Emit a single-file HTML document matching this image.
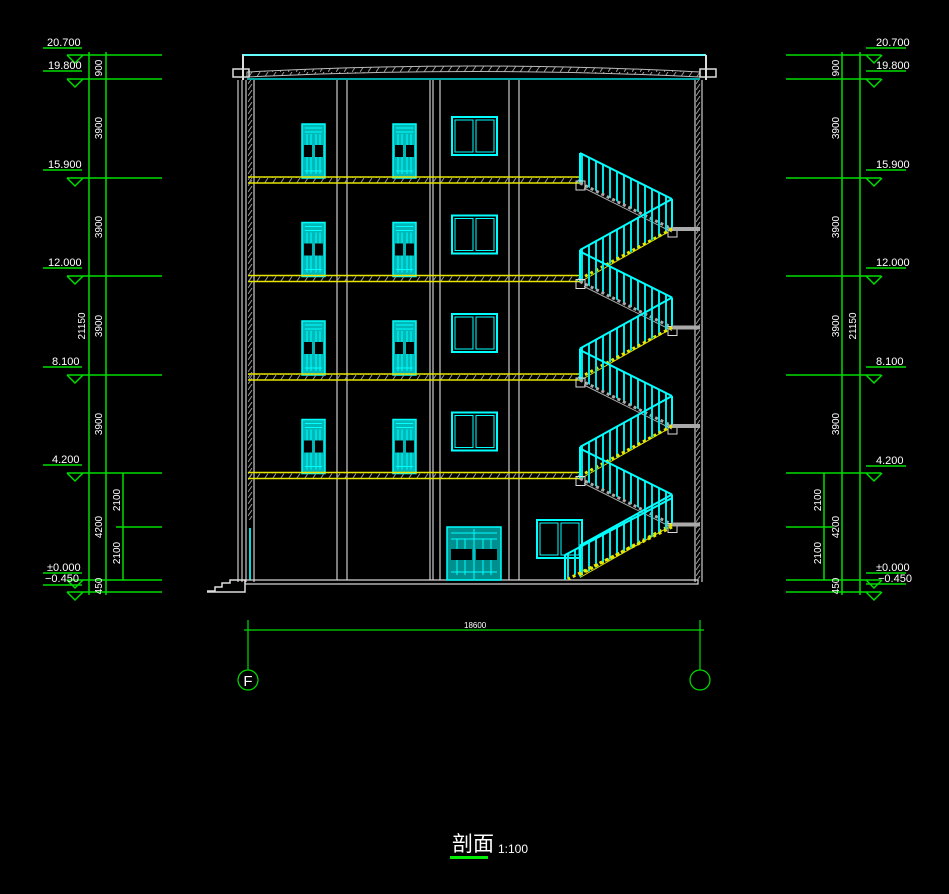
<!DOCTYPE html>
<html><head><meta charset="utf-8"><style>
html,body{margin:0;padding:0;background:#000;}
svg{display:block;}
text{font-family:"Liberation Sans Narrow","Liberation Sans",sans-serif;fill:#fff;}
</style></head><body>
<svg width="949" height="894" viewBox="0 0 949 894" xmlns="http://www.w3.org/2000/svg">
<defs>
<pattern id="bal" width="7" height="10" patternUnits="userSpaceOnUse">
<rect x="0" y="0" width="2" height="10" fill="#00e5e5"/>
</pattern>
<pattern id="hat" width="8" height="6" patternUnits="userSpaceOnUse">
<line x1="0" y1="6" x2="4" y2="0" stroke="#999" stroke-width="1"/>
</pattern>
<g id="door">
<rect x="0" y="0" width="23" height="54" fill="#00b8b8" stroke="#00ffff" stroke-width="1.5"/>
<g stroke="#00ffff" stroke-width="1">
<line x1="3" y1="4" x2="20" y2="4"/><line x1="3" y1="8" x2="20" y2="8"/>
<line x1="5" y1="10" x2="5" y2="50"/><line x1="9" y1="10" x2="9" y2="50"/><line x1="14" y1="10" x2="14" y2="50"/><line x1="18" y1="10" x2="18" y2="50"/>
<line x1="3" y1="47" x2="20" y2="47"/>
</g>
<rect x="2" y="21" width="8" height="12" fill="#000"/><rect x="13" y="21" width="8" height="12" fill="#000"/>
</g>
<g id="win">
<rect x="0" y="0" width="45" height="38" fill="none" stroke="#00ffff" stroke-width="2"/>
<rect x="3" y="3" width="18" height="32" fill="none" stroke="#00ffff" stroke-width="1"/>
<rect x="24" y="3" width="18" height="32" fill="none" stroke="#00ffff" stroke-width="1"/>
</g>
<g id="story">
<use href="#door" x="302" y="-54"/>
<use href="#door" x="393" y="-54"/>
<use href="#win" x="452" y="-61"/>
<!-- slab -->
<rect x="248" y="-1" width="332" height="6" fill="url(#hat)"/>
<line x1="248" y1="-1" x2="582" y2="-1" stroke="#e6e600" stroke-width="1.5"/>
<line x1="248" y1="5" x2="582" y2="5" stroke="#e6e600" stroke-width="1.5"/>
<!-- flight A (gray) -->
<polygon points="580,-25 672,21 672,51 580,5" fill="url(#bal)"/>
<line x1="580" y1="-25" x2="672" y2="21" stroke="#00ffff" stroke-width="2"/>
<line x1="580" y1="-25" x2="580" y2="5" stroke="#00ffff" stroke-width="2"/>
<line x1="672" y1="21" x2="672" y2="51" stroke="#00ffff" stroke-width="2"/>
<polyline points="580,5 672,51" stroke="#aaa" stroke-width="3" fill="none" stroke-dasharray="3 3"/>
<line x1="584" y1="10" x2="672" y2="54" stroke="#aaa" stroke-width="1"/>
<rect x="576" y="3" width="9" height="9" fill="none" stroke="#ddd" stroke-width="1"/>
<rect x="668" y="50" width="9" height="9" fill="none" stroke="#ddd" stroke-width="1"/>
<line x1="672" y1="51" x2="700" y2="51" stroke="#aaa" stroke-width="4"/>
<!-- flight B (yellow) -->
<polygon points="672,21 580,72 580,103 672,51" fill="url(#bal)"/>
<line x1="672" y1="21" x2="580" y2="72" stroke="#00ffff" stroke-width="2"/>
<line x1="580" y1="72" x2="580" y2="103" stroke="#00ffff" stroke-width="2"/>
<polyline points="672,51 580,101" stroke="#e6e600" stroke-width="3" fill="none" stroke-dasharray="3 3"/>
<line x1="668" y1="54" x2="580" y2="104" stroke="#e6e600" stroke-width="1"/>
</g>
</defs>

<!-- LEFT DIMENSIONS -->
<g stroke="#00dd00" stroke-width="1.5" fill="none">
<line x1="67" y1="55" x2="162" y2="55"/><line x1="43" y1="48" x2="82" y2="48"/>
<line x1="67" y1="79" x2="162" y2="79"/><line x1="43" y1="71" x2="82" y2="71"/>
<line x1="67" y1="178" x2="162" y2="178"/><line x1="43" y1="170" x2="82" y2="170"/>
<line x1="67" y1="276" x2="162" y2="276"/><line x1="43" y1="268" x2="82" y2="268"/>
<line x1="67" y1="375" x2="162" y2="375"/><line x1="43" y1="367" x2="82" y2="367"/>
<line x1="67" y1="473" x2="162" y2="473"/><line x1="43" y1="465" x2="82" y2="465"/>
<line x1="116" y1="527" x2="162" y2="527"/>
<line x1="67" y1="580" x2="162" y2="580"/><line x1="43" y1="573" x2="82" y2="573"/>
<line x1="67" y1="592" x2="162" y2="592"/><line x1="43" y1="585" x2="82" y2="585"/>
<line x1="89" y1="52" x2="89" y2="595"/>
<line x1="106" y1="52" x2="106" y2="595"/>
<line x1="123" y1="473" x2="123" y2="580"/>
<polyline points="67,55 75,63 83,55"/><polyline points="67,79 75,87 83,79"/><polyline points="67,178 75,186 83,178"/>
<polyline points="67,276 75,284 83,276"/><polyline points="67,375 75,383 83,375"/><polyline points="67,473 75,481 83,473"/>
<polyline points="67,580 75,588 83,580"/><polyline points="67,592 75,600 83,592"/>
</g>
<g font-size="11">
<text x="47" y="46">20.700</text><text x="48" y="69">19.800</text><text x="48" y="168">15.900</text>
<text x="48" y="266">12.000</text><text x="52" y="365">8.100</text><text x="52" y="463">4.200</text>
<text x="47" y="571">±0.000</text><text x="45" y="582">−0.450</text>
</g>
<g font-size="10">
<text transform="translate(102,68) rotate(-90)" text-anchor="middle">900</text>
<text transform="translate(102,128) rotate(-90)" text-anchor="middle">3900</text>
<text transform="translate(102,227) rotate(-90)" text-anchor="middle">3900</text>
<text transform="translate(102,326) rotate(-90)" text-anchor="middle">3900</text>
<text transform="translate(102,424) rotate(-90)" text-anchor="middle">3900</text>
<text transform="translate(102,527) rotate(-90)" text-anchor="middle">4200</text>
<text transform="translate(102,586) rotate(-90)" text-anchor="middle">450</text>
<text transform="translate(85,326) rotate(-90)" text-anchor="middle">21150</text>
<text transform="translate(120,500) rotate(-90)" text-anchor="middle">2100</text>
<text transform="translate(120,553) rotate(-90)" text-anchor="middle">2100</text>
</g>

<!-- RIGHT DIMENSIONS -->
<g stroke="#00dd00" stroke-width="1.5" fill="none">
<line x1="786" y1="55" x2="881" y2="55"/><line x1="866" y1="48" x2="906" y2="48"/>
<line x1="786" y1="79" x2="881" y2="79"/><line x1="866" y1="71" x2="906" y2="71"/>
<line x1="786" y1="178" x2="881" y2="178"/><line x1="866" y1="170" x2="906" y2="170"/>
<line x1="786" y1="276" x2="881" y2="276"/><line x1="866" y1="268" x2="906" y2="268"/>
<line x1="786" y1="375" x2="881" y2="375"/><line x1="866" y1="367" x2="906" y2="367"/>
<line x1="786" y1="473" x2="881" y2="473"/><line x1="866" y1="466" x2="906" y2="466"/>
<line x1="786" y1="527" x2="833" y2="527"/>
<line x1="786" y1="580" x2="881" y2="580"/><line x1="866" y1="573" x2="906" y2="573"/>
<line x1="786" y1="592" x2="881" y2="592"/><line x1="866" y1="584" x2="906" y2="584"/>
<line x1="860" y1="52" x2="860" y2="595"/>
<line x1="842" y1="52" x2="842" y2="595"/>
<line x1="824" y1="473" x2="824" y2="580"/>
<polyline points="866,55 874,63 882,55"/><polyline points="866,79 874,87 882,79"/><polyline points="866,178 874,186 882,178"/>
<polyline points="866,276 874,284 882,276"/><polyline points="866,375 874,383 882,375"/><polyline points="866,473 874,481 882,473"/>
<polyline points="866,580 874,588 882,580"/><polyline points="866,592 874,600 882,592"/>
</g>
<g font-size="11">
<text x="876" y="46">20.700</text><text x="876" y="69">19.800</text><text x="876" y="168">15.900</text>
<text x="876" y="266">12.000</text><text x="876" y="365">8.100</text><text x="876" y="464">4.200</text>
<text x="876" y="571">±0.000</text><text x="878" y="582">−0.450</text>
</g>
<g font-size="10">
<text transform="translate(839,68) rotate(-90)" text-anchor="middle">900</text>
<text transform="translate(839,128) rotate(-90)" text-anchor="middle">3900</text>
<text transform="translate(839,227) rotate(-90)" text-anchor="middle">3900</text>
<text transform="translate(839,326) rotate(-90)" text-anchor="middle">3900</text>
<text transform="translate(839,424) rotate(-90)" text-anchor="middle">3900</text>
<text transform="translate(839,527) rotate(-90)" text-anchor="middle">4200</text>
<text transform="translate(839,586) rotate(-90)" text-anchor="middle">450</text>
<text transform="translate(856,326) rotate(-90)" text-anchor="middle">21150</text>
<text transform="translate(821,500) rotate(-90)" text-anchor="middle">2100</text>
<text transform="translate(821,553) rotate(-90)" text-anchor="middle">2100</text>
</g>

<!-- BUILDING -->
<!-- roof -->
<line x1="242" y1="55" x2="706" y2="55" stroke="#66ffff" stroke-width="2"/>
<line x1="243" y1="55" x2="243" y2="80" stroke="#ddd" stroke-width="2"/>
<line x1="706" y1="55" x2="706" y2="80" stroke="#ddd" stroke-width="2"/>
<path d="M247,72 Q475,60 700,72 L700,77 Q475,66 247,77 Z" fill="url(#hat)" stroke="#bbb" stroke-width="1"/>
<rect x="233" y="69" width="16" height="8" fill="none" stroke="#ddd" stroke-width="1.5"/>
<rect x="700" y="69" width="16" height="8" fill="none" stroke="#ddd" stroke-width="1.5"/>
<line x1="247" y1="79" x2="700" y2="79" stroke="#00dddd" stroke-width="1.5"/>
<!-- walls -->
<g stroke="#ccc" stroke-width="1.2">
<line x1="238" y1="80" x2="238" y2="582"/><line x1="242" y1="80" x2="242" y2="582"/>
<line x1="246" y1="80" x2="246" y2="582"/><line x1="254" y1="80" x2="254" y2="582"/>
<line x1="695" y1="80" x2="695" y2="582"/><line x1="702" y1="80" x2="702" y2="582"/>
</g>
<rect x="246" y="80" width="8" height="440" fill="url(#hat)"/>
<rect x="695" y="80" width="7" height="500" fill="url(#hat)"/>
<line x1="250" y1="528" x2="250" y2="580" stroke="#00dddd" stroke-width="2"/>
<!-- columns -->
<g stroke="#ccc" stroke-width="1.2">
<line x1="337" y1="80" x2="337" y2="580"/><line x1="347" y1="80" x2="347" y2="580"/>
<line x1="430" y1="80" x2="430" y2="580"/><line x1="433" y1="80" x2="433" y2="580"/><line x1="440" y1="80" x2="440" y2="580"/>
<line x1="509" y1="80" x2="509" y2="580"/><line x1="519" y1="80" x2="519" y2="580"/>
</g>
<!-- stories -->
<use href="#story" y="178"/>
<use href="#story" y="276.5"/>
<use href="#story" y="375"/>
<use href="#story" y="473.5"/>
<!-- ground floor -->
<rect x="245" y="580" width="453" height="4" fill="none" stroke="#ddd" stroke-width="1.2"/>
<polyline points="207,591 215,591 215,587 222,587 222,583 230,583 230,580 245,580 245,592 207,592" fill="none" stroke="#ddd" stroke-width="1.5"/>
<g transform="translate(447,527)">
<rect x="0" y="0" width="54" height="53" fill="#008f8f" stroke="#00ffff" stroke-width="1.5"/>
<g stroke="#00ffff" stroke-width="1"><line x1="4" y1="6" x2="50" y2="6"/><line x1="4" y1="12" x2="50" y2="12"/><line x1="4" y1="45" x2="50" y2="45"/>
<line x1="10" y1="12" x2="10" y2="48"/><line x1="18" y1="12" x2="18" y2="48"/><line x1="27" y1="2" x2="27" y2="52"/><line x1="36" y1="12" x2="36" y2="48"/><line x1="44" y1="12" x2="44" y2="48"/></g>
<rect x="4" y="22" width="21" height="11" fill="#000"/><rect x="29" y="22" width="21" height="11" fill="#000"/>
</g>
<use href="#win" x="537" y="520"/>
<polygon points="672,527 565,573 565,580 672,527" fill="none"/>
<polygon points="672,498 565,555 565,580 672,527" fill="url(#bal)"/>
<line x1="672" y1="498" x2="565" y2="555" stroke="#00ffff" stroke-width="2"/>
<line x1="565" y1="555" x2="565" y2="580" stroke="#00ffff" stroke-width="2"/>
<polyline points="672,527 568,579" stroke="#e6e600" stroke-width="3" fill="none" stroke-dasharray="3 3"/>

<!-- axis dimension -->
<g stroke="#00dd00" stroke-width="1.2" fill="none">
<line x1="244" y1="630" x2="704" y2="630"/>
<line x1="248" y1="620" x2="248" y2="670"/>
<line x1="700" y1="620" x2="700" y2="670"/>
<circle cx="248" cy="680" r="10"/>
<circle cx="700" cy="680" r="10"/>
</g>
<text x="464" y="628" font-size="8">18600</text>
<text x="248" y="686" font-size="15" text-anchor="middle" font-family="Liberation Serif,serif">F</text>

<!-- title -->
<text x="452" y="851" font-size="21" style="font-family:'Liberation Sans','Noto Sans CJK SC',sans-serif">剖面</text>
<rect x="450" y="856" width="38" height="3" fill="#00ee00"/>
<text x="498" y="853" font-size="12">1:100</text>
</svg>
</body></html>
